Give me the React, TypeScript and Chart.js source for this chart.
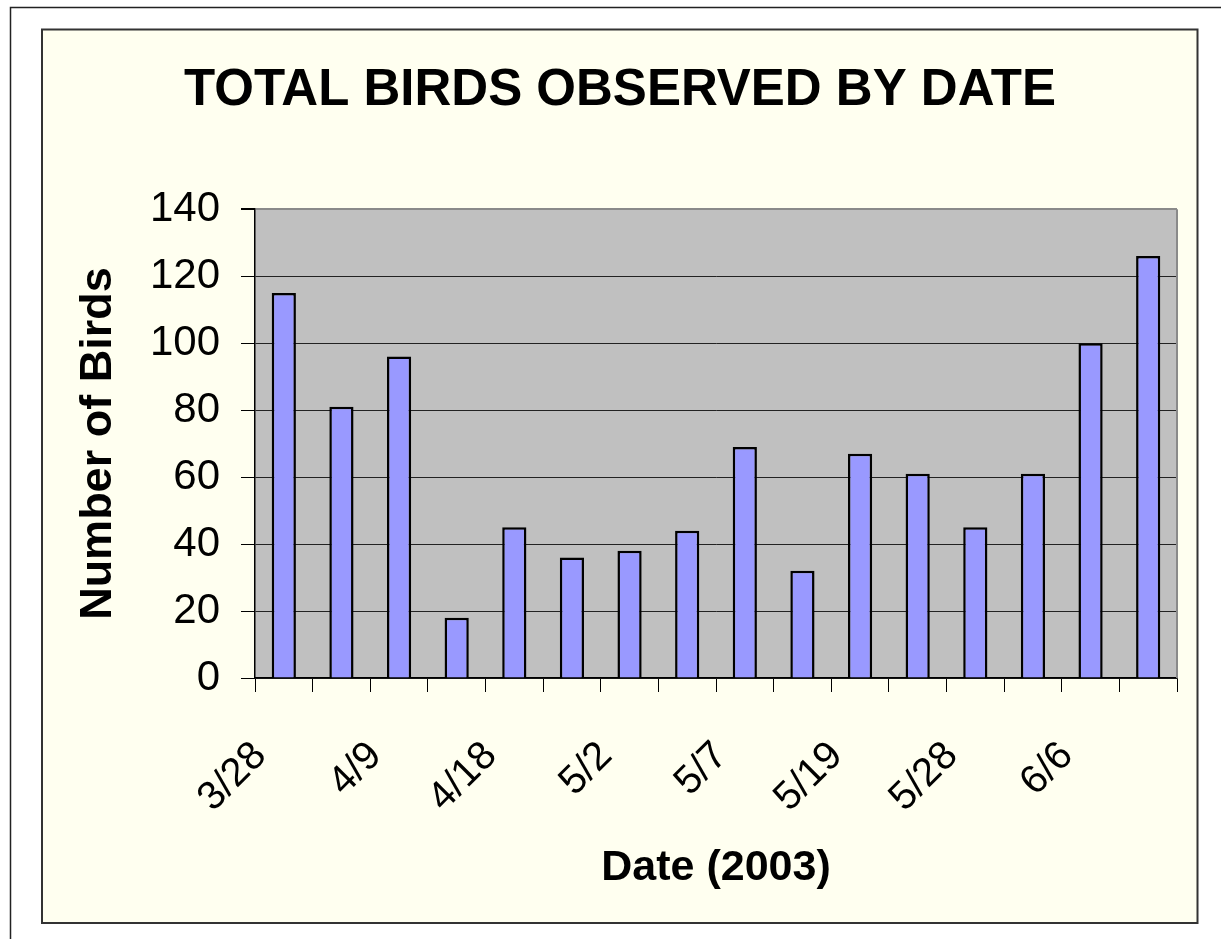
import React, { useEffect, useRef } from 'react';
import { Chart, registerables } from 'chart.js';

Chart.register(...registerables);

// ---- data ----
const dateLabels: string[] = ['3/28', '', '4/9', '', '4/18', '', '5/2', '', '5/7', '', '5/19', '', '5/28', '', '6/6', ''];
const birdCounts: number[] = [115, 81, 96, 18, 45, 36, 38, 44, 69, 32, 67, 61, 45, 61, 100, 126];
const yMin = 0;
const yMax = 140;
const yStep = 20;
const chartTitle = 'TOTAL BIRDS OBSERVED BY DATE';
const xAxisTitle = 'Date (2003)';
const yAxisTitle = 'Number of Birds';

const FONT = '"Liberation Sans", Arial, Helvetica, sans-serif';
const W = 1221;
const H = 939;

const framePlugin = {
  id: 'excelFrame',
  beforeDraw(chart: any) {
    const { ctx, chartArea: a } = chart;
    ctx.save();
    ctx.fillStyle = '#ffffff';
    ctx.fillRect(0, 0, chart.width, chart.height);
    // outer frame (extends beyond viewport)
    ctx.strokeStyle = '#222222';
    ctx.lineWidth = 1.5;
    ctx.strokeRect(10.5, 7.5, chart.width + 50, chart.height + 50);
    // inner ivory box
    ctx.fillStyle = '#FFFFF0';
    ctx.fillRect(42, 29.5, 1155.5, 893.5);
    ctx.lineWidth = 2;
    ctx.strokeStyle = '#333333';
    ctx.strokeRect(42, 29.5, 1155.5, 893.5);
    // plot background
    ctx.fillStyle = '#C0C0C0';
    ctx.fillRect(a.left, a.top, a.right - a.left, a.bottom - a.top);
    ctx.restore();
  },
  beforeDatasetsDraw(chart: any) {
    const { ctx, chartArea: a } = chart;
    ctx.save();
    ctx.strokeStyle = '#8a8a8a';
    ctx.lineWidth = 2;
    ctx.beginPath();
    ctx.moveTo(a.right, a.top);
    ctx.lineTo(a.right, a.bottom);
    ctx.stroke();
    ctx.restore();
  },
};

export default function App() {
  const canvasRef = useRef<HTMLCanvasElement | null>(null);

  useEffect(() => {
    if (!canvasRef.current) return;
    const chart = new Chart(canvasRef.current, {
      type: 'bar',
      data: {
        labels: dateLabels,
        datasets: [
          {
            data: birdCounts,
            backgroundColor: '#9999FF',
            borderColor: '#000000',
            borderWidth: 2.5,
            barPercentage: 0.42,
            categoryPercentage: 1,
          },
        ],
      },
      plugins: [framePlugin],
      options: {
        animation: false,
        responsive: false,
        maintainAspectRatio: false,
        devicePixelRatio: 1,
        layout: { padding: { left: 63, right: 44, top: 0, bottom: 0 } },
        plugins: {
          legend: { display: false },
          tooltip: { enabled: false },
          title: {
            display: true,
            text: chartTitle,
            color: '#000000',
            font: { family: FONT, size: 51, weight: 'bold' },
            padding: { top: 60, bottom: 88 },
          },
        },
        scales: {
          x: {
            afterFit: (scale: any) => {
              scale.height = 261;
            },
            grid: {
              display: true,
              drawOnChartArea: false,
              drawTicks: true,
              tickLength: 14,
              tickColor: '#000000',
              offset: true,
            },
            border: { display: true, color: '#000000', width: 1.5 },
            ticks: {
              autoSkip: false,
              minRotation: 45,
              maxRotation: 45,
              padding: 34,
              color: '#000000',
              font: { family: FONT, size: 40, lineHeight: 0 },
              callback: function (this: any, value: any) {
                const l = this.getLabelForValue(value);
                return l ? l + '   ' : '';
              },
            },
            title: {
              display: true,
              text: xAxisTitle,
              color: '#000000',
              font: { family: FONT, size: 43, weight: 'bold' },
              padding: { top: 0, bottom: 45 },
            },
          },
          y: {
            min: yMin,
            max: yMax,
            afterFit: (scale: any) => {
              scale.width = 192;
            },
            grid: {
              display: true,
              drawOnChartArea: true,
              drawTicks: true,
              tickLength: 14,
              tickColor: '#000000',
              color: (ctx: any) => (ctx.tick && ctx.tick.value === yMax ? '#8a8a8a' : '#222222'),
              lineWidth: (ctx: any) => (ctx.tick && ctx.tick.value === yMax ? 2 : 1),
            },
            border: { display: true, color: '#000000', width: 1.5 },
            ticks: {
              stepSize: yStep,
              padding: 21,
              color: '#000000',
              font: { family: FONT, size: 42 },
            },
            title: {
              display: true,
              text: yAxisTitle,
              color: '#000000',
              font: { family: FONT, size: 45, weight: 'bold' },
              padding: { top: 9, bottom: 0 },
            },
          },
        },
      },
    } as any);
    return () => chart.destroy();
  }, []);

  return (
    <div style={{ position: 'absolute', left: 0, top: 0, width: W, height: H }}>
      <canvas ref={canvasRef} width={W} height={H} style={{ display: 'block', width: W, height: H }} />
    </div>
  );
}
